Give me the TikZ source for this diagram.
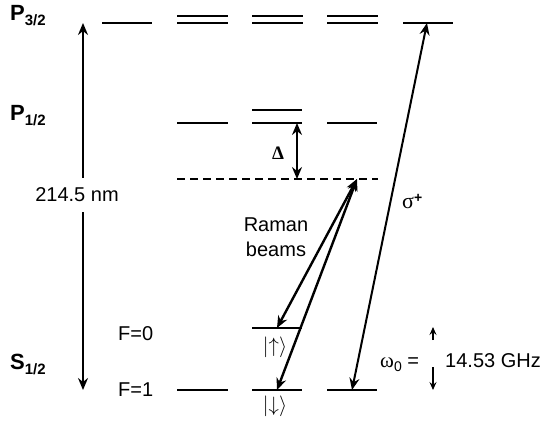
\documentclass[tikz,border=0pt]{standalone}
\usepackage{fontspec}
\setmainfont{Liberation Sans}
\newfontfamily\grk{Liberation Serif}
\usetikzlibrary{arrows.meta}
\tikzset{
  lev/.style={line width=2.6pt},
  hd/.tip={Stealth[length=12pt,width=10pt,inset=4pt]},
  sh/.tip={Stealth[length=8pt,width=7pt,inset=3pt]},
  tr/.style={line width=2pt, hd-hd},
  ram/.style={line width=2.4pt, hd-hd},
  small/.style={line width=1.8pt, -sh},
  txt/.style={font=\fontsize{20}{25}\selectfont, inner sep=0pt},
  big/.style={font=\fontsize{22}{25}\selectfont\bfseries, inner sep=0pt},
}
\newcommand{\subb}[1]{\raisebox{-5pt}{\fontsize{15}{16}\selectfont\bfseries #1}}
\begin{document}
\begin{tikzpicture}[x=1pt,y=-1pt]
\useasboundingbox (0,0) rectangle (542,421);
% P3/2 levels
\draw[lev] (102,23) -- (152,23);
\foreach \xa in {177,252,327}{
  \draw[lev] (\xa,16) -- ++(51,0);
  \draw[lev] (\xa,23) -- ++(51,0);
}
\draw[lev] (403,23) -- (453,23);
% P1/2 levels
\draw[lev] (177,123) -- (228,123);
\draw[lev] (252,110) -- (302,110);
\draw[lev] (252,123) -- (302,123);
\draw[lev] (327,123) -- (377,123);
% virtual level
\draw[line width=2.2pt, dash pattern=on 8pt off 5pt] (177,179) -- (378,179);
% S1/2 levels
\draw[lev] (252,328) -- (302,328);
\draw[lev] (177,390) -- (228,390);
\draw[lev] (252,390) -- (302,390);
\draw[lev] (327,390) -- (377,390);

% coordinates
\coordinate (p3top) at (83,23);
\coordinate (s1bot) at (83,390);
\coordinate (ramtop) at (357,179);
\coordinate (upst) at (277,328);
\coordinate (dnst) at (277,390);
\coordinate (sigtop) at (427,23);
\coordinate (sigbot) at (352,390);
\coordinate (dtop) at (297,123);
\coordinate (dbot) at (297,179);
\coordinate (wa1) at (433,340);
\coordinate (wa1t) at (433,327);
\coordinate (wa2) at (433,367);
\coordinate (wa2t) at (433,390);

% transitions
\draw[tr] (s1bot) -- (p3top);
\node[txt, fill=white, minimum height=34pt, inner xsep=2pt] (nm) at (77,195) {214.5 nm};
\draw[tr] (dtop) -- (dbot);
\draw[ram] (ramtop) -- (upst);
\draw[ram] (ramtop) -- (dnst);
\draw[tr] (sigbot) -- (sigtop);
\draw[small] (wa1) -- (wa1t);
\draw[small] (wa2) -- (wa2t);

% labels
\node[big, anchor=base west] (P32) at (10,20) {P\subb{3/2}};
\node[big, anchor=base west] (P12) at (10,120) {P\subb{1/2}};
\node[big, anchor=base west] (S12) at (10,369) {S\subb{1/2}};
\node[txt, anchor=base west] (F0) at (118,340) {F=0};
\node[txt, anchor=base west] (F1) at (118,396) {F=1};
\node[inner sep=0pt, font=\fontsize{21}{22}\selectfont] (ups) at (275,347) {$|{\uparrow}\rangle$};
\node[inner sep=0pt, font=\fontsize{21}{22}\selectfont] (dns) at (275,406) {$|{\downarrow}\rangle$};
\node[txt, align=center] (rb) at (276,237) {Raman\\beams};
\node[inner sep=0pt, font=\fontsize{19}{20}\selectfont\grk\bfseries] (del) at (278,153) {Δ};
\node[inner sep=0pt, anchor=base west, font=\fontsize{22}{22}\selectfont\grk] (sig) at (402,208) {σ\raisebox{6pt}{\fontsize{14}{14}\selectfont\normalfont\bfseries +}};
\node[txt, anchor=base west] (om) at (380,367) {{\grk\fontsize{21}{22}\selectfont ω}\raisebox{-4pt}{\fontsize{14}{14}\selectfont 0} =};
\node[txt, anchor=base west] (ghz) at (445,367) {14.53 GHz};
\end{tikzpicture}
\end{document}
